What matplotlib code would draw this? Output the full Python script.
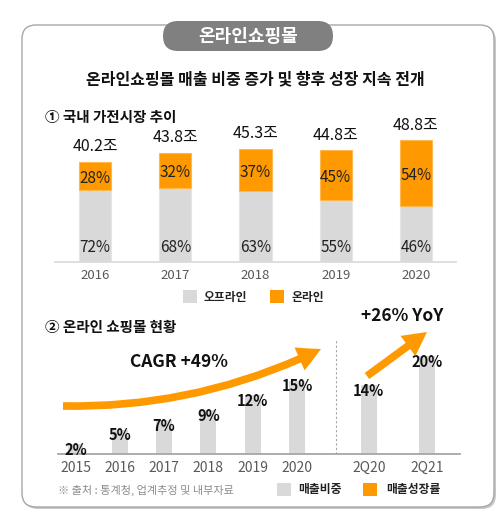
import matplotlib
matplotlib.use("Agg")
import matplotlib.pyplot as plt
from matplotlib.patches import FancyBboxPatch, Rectangle, FancyArrowPatch

plt.rcParams['font.family'] = ['Noto Sans CJK KR', 'DejaVu Sans']

# 1) 국내 가전시장 추이
years = ["2016", "2017", "2018", "2019", "2020"]
market_total = [40.2, 43.8, 45.3, 44.8, 48.8]   # 조
offline_pct = [72, 68, 63, 55, 46]
online_pct = [28, 32, 37, 45, 54]

# 2) 온라인 쇼핑몰 현황 (매출비중 %)
periods = ["2015", "2016", "2017", "2018", "2019", "2020", "2Q20", "2Q21"]
online_share = [2, 5, 7, 9, 12, 15, 14, 20]

GRAY = "#d9d9d9"
ORANGE = "#ff9900"
W, H = 502, 521

fig = plt.figure(figsize=(W / 100, H / 100), dpi=100)


def px_axes(left, top, right, bottom, z):
    a = fig.add_axes([left / W, 1 - bottom / H, (right - left) / W, (bottom - top) / H])
    a.set_zorder(z)
    a.patch.set_alpha(0)
    return a


# background / frame
bg = px_axes(0, 0, W, H, 0)
bg.set_xlim(0, W)
bg.set_ylim(H, 0)
bg.axis("off")
bg.add_patch(FancyBboxPatch((24, 27), 472, 482, boxstyle="round,pad=0,rounding_size=14",
                            facecolor="#c8c8c8", edgecolor="none"))
bg.add_patch(FancyBboxPatch((22, 25), 472, 482, boxstyle="round,pad=0,rounding_size=14",
                            facecolor="white", edgecolor="#a6a6a6", lw=1))
bg.add_patch(FancyBboxPatch((163, 21), 170, 30, boxstyle="round,pad=0,rounding_size=15",
                            facecolor="#808080", edgecolor="none"))
bg.text(248, 36, "온라인쇼핑몰", color="white", fontsize=13, fontweight="bold",
        ha="center", va="center")
bg.text(255, 79, "온라인쇼핑몰 매출 비중 증가 및 향후 성장 지속 전개", fontsize=11.5,
        fontweight="bold", ha="center", va="center", color="#111111")
bg.text(45, 117, "① 국내 가전시장 추이", fontsize=10.5, fontweight="bold",
        ha="left", va="center", color="#111111")
bg.text(45, 327, "② 온라인 쇼핑몰 현황", fontsize=10.5, fontweight="bold",
        ha="left", va="center", color="#111111")

# legend 1
bg.add_patch(Rectangle((183, 290), 14, 13, facecolor=GRAY, edgecolor="none"))
bg.text(204, 297, "오프라인", fontsize=8.5, fontweight="bold", va="center", color="#222222")
bg.add_patch(Rectangle((270, 290), 14, 13, facecolor=ORANGE, edgecolor="none"))
bg.text(292, 297, "온라인", fontsize=8.5, fontweight="bold", va="center", color="#222222")

# legend 2 + source
bg.add_patch(Rectangle((277, 483), 14, 13, facecolor=GRAY, edgecolor="none"))
bg.text(298, 490, "매출비중", fontsize=8.5, fontweight="bold", va="center", color="#222222")
bg.add_patch(Rectangle((363, 483), 14, 13, facecolor=ORANGE, edgecolor="none"))
bg.text(386, 490, "매출성장률", fontsize=8.5, fontweight="bold", va="center", color="#222222")
bg.text(58, 490, "※ 출처 : 통계청, 업계추정 및 내부자료", fontsize=8, va="center", color="#8c8c8c")

# chart 1
ax1 = px_axes(55, 110, 456, 262, 1)
x1 = list(range(len(years)))
offline = [t * p / 100 for t, p in zip(market_total, offline_pct)]
online = [t * p / 100 for t, p in zip(market_total, online_pct)]
ax1.bar(x1, offline, width=0.4, color=GRAY, edgecolor="#e6e6e6", lw=0.8)
ax1.bar(x1, online, width=0.4, bottom=offline, color=ORANGE, edgecolor="#ffb84d", lw=0.8)
ax1.set_xlim(-0.5, 4.5)
ax1.set_ylim(0, 152 / 2.5)
for i in x1:
    ax1.text(i, market_total[i] + 6, f"{market_total[i]}조", ha="center", va="center",
             fontsize=11.5, color="#111111")
    ax1.text(i, 6, f"{offline_pct[i]}%", ha="center", va="center", fontsize=11, color="#222222")
    ax1.text(i, offline[i] + online[i] / 2 - 1, f"{online_pct[i]}%", ha="center", va="center",
             fontsize=11, color="#222222")
ax1.set_xticks(x1, years)
ax1.tick_params(axis="x", length=0, pad=5, labelsize=9.5, labelcolor="#595959")
ax1.set_yticks([])
for s in ["top", "left", "right"]:
    ax1.spines[s].set_visible(False)
ax1.spines["bottom"].set_color("#d9d9d9")
ax1.spines["bottom"].set_linewidth(1.2)

# chart 2
ax2 = px_axes(58, 300, 460, 454, 1)
x2 = [0, 1, 2, 3, 4, 5, 6.62, 7.93]
ax2.bar(x2, online_share, width=0.36, color=GRAY, edgecolor="none")
ax2.set_xlim(-0.395, 8.68)
ax2.set_ylim(0, 154 / 4.9)
for xi, v in zip(x2, online_share):
    ax2.text(xi, v - 1.2, f"{v}%", ha="center", va="center", fontsize=10.5,
             fontweight="bold", color="#111111")
ax2.axvline(5.88, ymax=114 / 154, color="#a6a6a6", lw=0.8, ls=(0, (2, 2)))
ax2.set_xticks(x2, periods)
ax2.tick_params(axis="x", length=0, pad=5, labelsize=10, labelcolor="#595959")
ax2.set_yticks([])
for s in ["top", "left", "right"]:
    ax2.spines[s].set_visible(False)
ax2.spines["bottom"].set_color("#a6a6a6")
ax2.spines["bottom"].set_linewidth(1.3)

# arrows and annotations
fg = px_axes(0, 0, W, H, 2)
fg.set_xlim(0, W)
fg.set_ylim(H, 0)
fg.axis("off")
style = "simple,head_length=1.7,head_width=1.8,tail_width=0.55"
fg.add_patch(FancyArrowPatch((63, 406), (321, 349), arrowstyle=style, mutation_scale=10,
                             connectionstyle="arc3,rad=0.12", color=ORANGE, lw=0,
                             shrinkA=0, shrinkB=0))
fg.add_patch(FancyArrowPatch((367, 376), (427, 332), arrowstyle=style, mutation_scale=10,
                             color=ORANGE, lw=0, shrinkA=0, shrinkB=0))
fg.text(179, 362, "CAGR +49%", fontsize=12.5, fontweight="bold", ha="center", va="center",
        color="#111111")
fg.text(402, 316, "+26% YoY", fontsize=12.5, fontweight="bold", ha="center", va="center",
        color="#111111")

fig.savefig("out.png", dpi=100)
